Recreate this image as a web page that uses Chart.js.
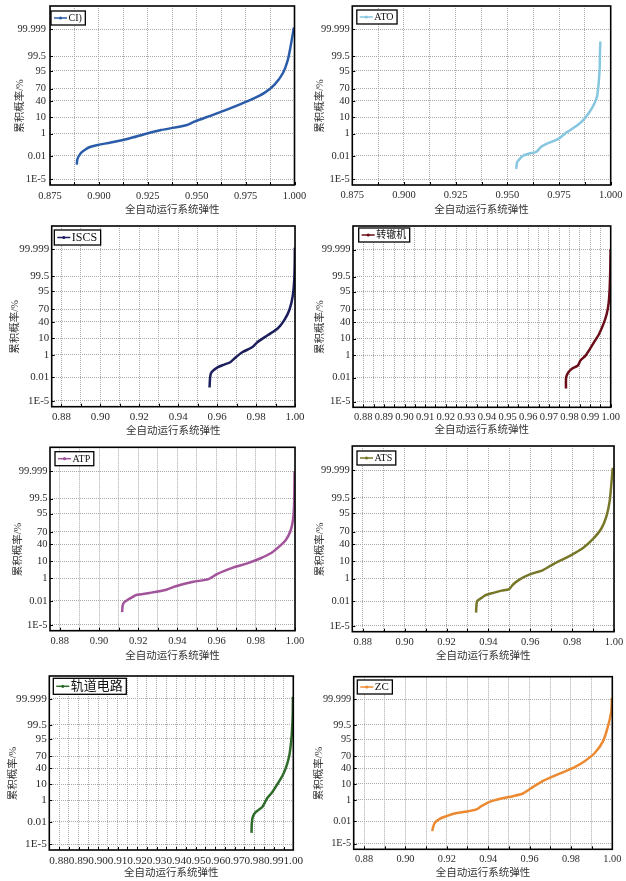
<!DOCTYPE html>
<html><head><meta charset="utf-8">
<script src="https://cdn.jsdelivr.net/npm/chart.js@4.4.0/dist/chart.umd.min.js"></script>
<style>
html,body{margin:0;padding:0;background:#fff;width:626px;height:881px;overflow:hidden;position:relative;}
canvas{position:absolute;}
</style></head><body>
<script>
// ---- text ----
const xTitle = '全自动运行系统弹性';
const yTitle = '累积概率/%';

// ---- y ticks (cumulative probability, %) ----
const yTickPercents = [1e-5, 0.01, 1, 10, 40, 70, 95, 99.5, 99.999];
const yTickLabels   = ['1E-5', '0.01', '1', '10', '40', '70', '95', '99.5', '99.999'];

// ---- x tick labels ----
const xLabelsA = ['0.875', '0.900', '0.925', '0.950', '0.975', '1.000'];
const xLabelsB = ['0.88', '0.90', '0.92', '0.94', '0.96', '0.98', '1.00'];
const xLabelsC = ['0.88', '0.89', '0.90', '0.91', '0.92', '0.93', '0.94', '0.95', '0.96', '0.97', '0.98', '0.99', '1.00'];

// ---- series (x = 全自动运行系统弹性, p = 累积概率 %) ----
const ciX  = [0.8887,0.8890,0.8907,0.8933,0.8958,0.8993,0.9061,0.9155,0.9232,0.9317,0.9446,0.9488,0.9590,0.9693,0.9778,0.9846,0.9898,0.9941,0.9966,0.9983,0.9997];
const ciP  = [0.00093,0.0043,0.019,0.048,0.082,0.12,0.2,0.43,0.91,1.8,3.7,5.9,13.5,27,43,60,78,93.4,99.04,99.965,99.9994];

const atoX = [0.9543,0.9547,0.9552,0.9576,0.9608,0.9640,0.9664,0.9697,0.9745,0.9785,0.9834,0.9866,0.9895,0.9919,0.9934,0.9942,0.9947,0.9948,0.9950];
const atoP = [0.00027,0.0018,0.0028,0.01,0.018,0.026,0.082,0.175,0.38,1.2,3.3,6.9,15.9,31.5,51.6,81,97.3,99.71,99.976];

const iscsX = [0.9561,0.9564,0.9571,0.9602,0.9636,0.9667,0.9696,0.9731,0.9777,0.9808,0.9859,0.9911,0.9945,0.9971,0.9988,0.9996,0.99985,0.9999];
const iscsP = [0.00065,0.0096,0.032,0.097,0.17,0.27,0.68,1.6,3.1,6.4,13.6,25,44,68.5,90.7,99.1,99.969,99.9994];

const zzjX = [0.9783,0.9784,0.9796,0.9812,0.9840,0.9853,0.9878,0.9894,0.9918,0.9943,0.9964,0.9980,0.9990,0.9995,0.9998,0.99995];
const zzjP = [0.00058,0.012,0.038,0.079,0.15,0.4,0.96,2.1,6.3,15.6,34.5,58.7,82.4,96.8,99.89,99.9991];

const atpX = [0.9118,0.9121,0.9130,0.9147,0.9172,0.9190,0.9258,0.9344,0.9396,0.9481,0.9559,0.9602,0.9687,0.9756,0.9825,0.9876,0.9919,0.9953,0.9976,0.9990,0.9995,0.9997,0.9998];
const atpP = [0.0005,0.0032,0.0074,0.013,0.025,0.039,0.061,0.12,0.25,0.54,0.85,1.9,4.8,7.9,13.6,21.3,35,51,70.7,89.8,98.2,99.957,99.999];

const atsX = [0.9341,0.9344,0.9348,0.9367,0.9384,0.9423,0.9463,0.9499,0.9518,0.9550,0.9598,0.9661,0.9709,0.9789,0.9852,0.9900,0.9939,0.9963,0.9979,0.9987,0.9994];
const atsP = [0.00054,0.0067,0.012,0.022,0.04,0.069,0.11,0.15,0.36,0.87,1.9,3.5,7.2,17.2,32,53.4,75.8,92.3,99.06,99.963,99.99946];

const gdX = [0.9786,0.9787,0.9791,0.9803,0.9819,0.9841,0.9853,0.9866,0.9891,0.9917,0.9947,0.9967,0.9980,0.9988,0.9993,0.9997,0.9998];
const gdP = [0.00043,0.0046,0.025,0.079,0.14,0.28,0.6,1.4,3.4,9.3,24.8,48.6,72.9,91.3,98.3,99.93,99.9994];

const zcX = [0.9130,0.9133,0.9142,0.9166,0.9206,0.9238,0.9287,0.9343,0.9367,0.9407,0.9464,0.9520,0.9568,0.9609,0.9673,0.9754,0.9818,0.9866,0.9915,0.9955,0.9979,0.9995,0.9998];
const zcP = [0.00062,0.0016,0.0064,0.018,0.04,0.064,0.094,0.16,0.31,0.7,1.25,1.85,2.8,6.1,14.9,28.6,42.5,57.9,77,93.3,99.34,99.973,99.9993];

// ---- normal probability (probit) axis transform ----
function probit(p){
  const a=[-3.969683028665376e+01,2.209460984245205e+02,-2.759285104469687e+02,1.383577518672690e+02,-3.066479806614716e+01,2.506628277459239e+00];
  const b=[-5.447609879822406e+01,1.615858368580409e+02,-1.556989798598866e+02,6.680131188771972e+01,-1.328068155288572e+01];
  const c=[-7.784894002430293e-03,-3.223964580411365e-01,-2.400758277161838e+00,-2.549732539343734e+00,4.374664141464968e+00,2.938163982698783e+00];
  const d=[7.784695709041462e-03,3.224671290700398e-01,2.445134137142996e+00,3.754408661907416e+00];
  const pl=0.02425, ph=1-pl; let q,r;
  if(p<pl){q=Math.sqrt(-2*Math.log(p));return (((((c[0]*q+c[1])*q+c[2])*q+c[3])*q+c[4])*q+c[5])/((((d[0]*q+d[1])*q+d[2])*q+d[3])*q+1);}
  if(p<=ph){q=p-0.5;r=q*q;return (((((a[0]*r+a[1])*r+a[2])*r+a[3])*r+a[4])*r+a[5])*q/(((((b[0]*r+b[1])*r+b[2])*r+b[3])*r+b[4])*r+1);}
  q=Math.sqrt(-2*Math.log(1-p));return -(((((c[0]*q+c[1])*q+c[2])*q+c[3])*q+c[4])*q+c[5])/((((d[0]*q+d[1])*q+d[2])*q+d[3])*q+1);
}

const FONT = "'Liberation Serif','Noto Sans CJK SC',serif";
const Y_MIN = -5.56, Y_MAX = 5.73;

const gridSpecs = {
  A: {start:0.875, step:0.0125, n:11, labels:xLabelsA},
  B: {start:0.88,  step:0.01,   n:13, labels:xLabelsB},
  C: {start:0.875, step:0.005,  n:26, labels:xLabelsC}
};

const panels = [
  {name:'CI)',  x:ciX,  p:ciP,  color:'#2b5ca9', cx:0,   cy:0,   ch:230, L:50,    T:6,     R:294.5, B:185,   g:'A', fs:10.4, yTX:20,    xTY:210.5, xPad:5, yPad:4,   legF:10, legL:1, legT:5},
  {name:'ATO',  x:atoX, p:atoP, color:'#86c6df', cx:313, cy:0,   ch:230, L:352.3, T:6,     R:610.7, B:185,   g:'A', fs:10.5, yTX:320.5, xTY:210,   xPad:4, yPad:2.5, legF:10, legL:4.5, legT:4},
  {name:'ISCS', x:iscsX,p:iscsP,color:'#1d1f5c', cx:0,   cy:220, ch:230, L:51.7,  T:226,   R:295,   B:406.7, g:'B', fs:10.9, yTX:15,    xTY:431,   xPad:4, yPad:2.5, legF:12, legL:2.6, legT:4},
  {name:'转辙机', x:zzjX, p:zzjP, color:'#6a0d18', cx:313, cy:220, ch:230, L:353,   T:226,   R:610.7, B:407.3, g:'C', fs:10.5, yTX:320.5, xTY:430,   xPad:4, yPad:2.5, legF:10, legL:5.7, legT:2},
  {name:'ATP',  x:atpX, p:atpP, color:'#a2549b', cx:0,   cy:440, ch:230, L:50,    T:447.3, R:295,   B:630.7, g:'B', fs:10.5, yTX:18.3,  xTY:656.7, xPad:4, yPad:2.5, legF:10, legL:5, legT:4.4},
  {name:'ATS',  x:atsX, p:atsP, color:'#77772a', cx:313, cy:440, ch:230, L:352.3, T:446,   R:614,   B:631.7, g:'B', fs:10.5, yTX:320.5, xTY:656.7, xPad:4, yPad:2.5, legF:10, legL:4.7, legT:5},
  {name:'轨道电路', x:gdX, p:gdP, color:'#2f6b2b', cx:0,   cy:660, ch:221, L:49.3,  T:676,   R:293.3, B:850,   g:'C', fs:11.2, yTX:13.3,  xTY:873.3, xPad:4, yPad:2.5, legF:13, legL:4, legT:2.3},
  {name:'ZC',   x:zcX,  p:zcP,  color:'#ec8a32', cx:313, cy:660, ch:221, L:353.7, T:676.7, R:612.3, B:849.3, g:'B', fs:10.3, yTX:318.8, xTY:873.3, xPad:4, yPad:2.5, legF:11, legL:3.6, legT:3.3}
];

function makeChart(cfg){
  const W = 313;
  const cv = document.createElement('canvas');
  cv.width = W; cv.height = cfg.ch;
  cv.style.left = cfg.cx + 'px'; cv.style.top = cfg.cy + 'px';
  cv.style.width = W + 'px'; cv.style.height = cfg.ch + 'px';
  document.body.appendChild(cv);

  const yW = cfg.L - cfg.cx;
  const xH = cfg.cy + cfg.ch - cfg.B;
  const padTop = cfg.T - cfg.cy;
  const padRight = cfg.cx + W - cfg.R;
  const tfs = 10.5, tLH = tfs * 1.2;
  const spec = gridSpecs[cfg.g];
  const gridVals = [];
  for (let k = 0; k < spec.n; k++) gridVals.push(+(spec.start + k * spec.step).toFixed(5));

  const framePlugin = {
    id: 'frame' + cfg.name,
    afterDraw(chart){
      const {ctx, chartArea:a} = chart;
      const xs = chart.scales.x, ys = chart.scales.y;
      ctx.save();
      ctx.setLineDash([]);
      ctx.strokeStyle = '#000'; ctx.lineWidth = 1;
      ctx.beginPath();
      xs.ticks.forEach(t => { const px = Math.round(xs.getPixelForValue(t.value)) + 0.5; ctx.moveTo(px, a.bottom); ctx.lineTo(px, a.bottom - 3); });
      ys.ticks.forEach(t => { const py = Math.round(ys.getPixelForValue(t.value)) + 0.5; ctx.moveTo(a.left, py); ctx.lineTo(a.left + 3, py); });
      ctx.stroke();
      ctx.lineWidth = 1.6;
      ctx.strokeRect(a.left, a.top, a.right - a.left, a.bottom - a.top);
      // legend
      ctx.font = cfg.legF + 'px ' + FONT;
      const tw = ctx.measureText(cfg.name).width;
      const bh = Math.max(14, cfg.legF + 3);
      const bx = a.left + cfg.legL, by = a.top + cfg.legT, bw = 18 + tw + 3;
      ctx.fillStyle = '#fff'; ctx.fillRect(bx, by, bw, bh);
      ctx.strokeStyle = '#000'; ctx.lineWidth = 1.3; ctx.strokeRect(bx, by, bw, bh);
      const my = by + bh / 2;
      ctx.strokeStyle = cfg.color; ctx.lineWidth = 1.5;
      ctx.beginPath(); ctx.moveTo(bx + 3, my); ctx.lineTo(bx + 16, my); ctx.stroke();
      ctx.fillStyle = cfg.color; ctx.beginPath(); ctx.arc(bx + 9.5, my, 1.6, 0, Math.PI * 2); ctx.fill();
      ctx.fillStyle = '#111'; ctx.textAlign = 'left'; ctx.textBaseline = 'middle';
      ctx.fillText(cfg.name, bx + 17.5, my + 0.5);
      ctx.restore();
    }
  };

  new Chart(cv, {
    type: 'line',
    data: { datasets: [{
      label: cfg.name,
      data: cfg.x.map((x, i) => ({x: x, y: probit(cfg.p[i] / 100)})),
      borderColor: cfg.color, backgroundColor: cfg.color,
      borderWidth: 2.5, pointRadius: 0, tension: 0.25, fill: false
    }]},
    options: {
      responsive: false, animation: false, devicePixelRatio: 1,
      layout: { padding: {top: padTop, right: padRight, left: 0, bottom: 0} },
      plugins: { legend: {display: false}, tooltip: {enabled: false} },
      scales: {
        x: {
          type: 'linear', min: 0.875, max: 1.0,
          afterBuildTicks: s => { s.ticks = gridVals.map(v => ({value: v})); },
          afterFit: s => { s.height = xH; s.paddingLeft = 0; s.paddingRight = 0; },
          ticks: {
            autoSkip: false, maxRotation: 0, minRotation: 0, padding: cfg.xPad,
            color: '#2a2a2a', font: {family: FONT, size: cfg.fs},
            callback: v => { const l = spec.labels.find(s => Math.abs(parseFloat(s) - v) < 1e-6); return l || ''; }
          },
          grid: { color: '#a9a9a9', lineWidth: 1, drawTicks: false },
          border: { display: false, dash: [1, 1] },
          title: { display: true, text: xTitle, color: '#333', font: {family: FONT, size: tfs},
                   padding: {top: 0, bottom: (cfg.cy + cfg.ch) - cfg.xTY - tLH / 2} }
        },
        y: {
          type: 'linear', min: Y_MIN, max: Y_MAX,
          afterBuildTicks: s => { s.ticks = yTickPercents.map(p => ({value: probit(p / 100)})); },
          afterFit: s => { s.width = yW; s.paddingTop = 0; s.paddingBottom = 0; },
          ticks: {
            autoSkip: false, padding: cfg.yPad, color: '#2a2a2a', font: {family: FONT, size: cfg.fs},
            callback: (v, i) => yTickLabels[i]
          },
          grid: { color: '#a9a9a9', lineWidth: 1, drawTicks: false },
          border: { display: false, dash: [1, 1] },
          title: { display: true, text: yTitle + '        ', color: '#333', font: {family: FONT, size: tfs},
                   padding: {top: Math.max(0, cfg.yTX - cfg.cx - tLH / 2), bottom: 0} }
        }
      }
    },
    plugins: [framePlugin]
  });
}

panels.forEach(makeChart);
</script>
</body></html>
